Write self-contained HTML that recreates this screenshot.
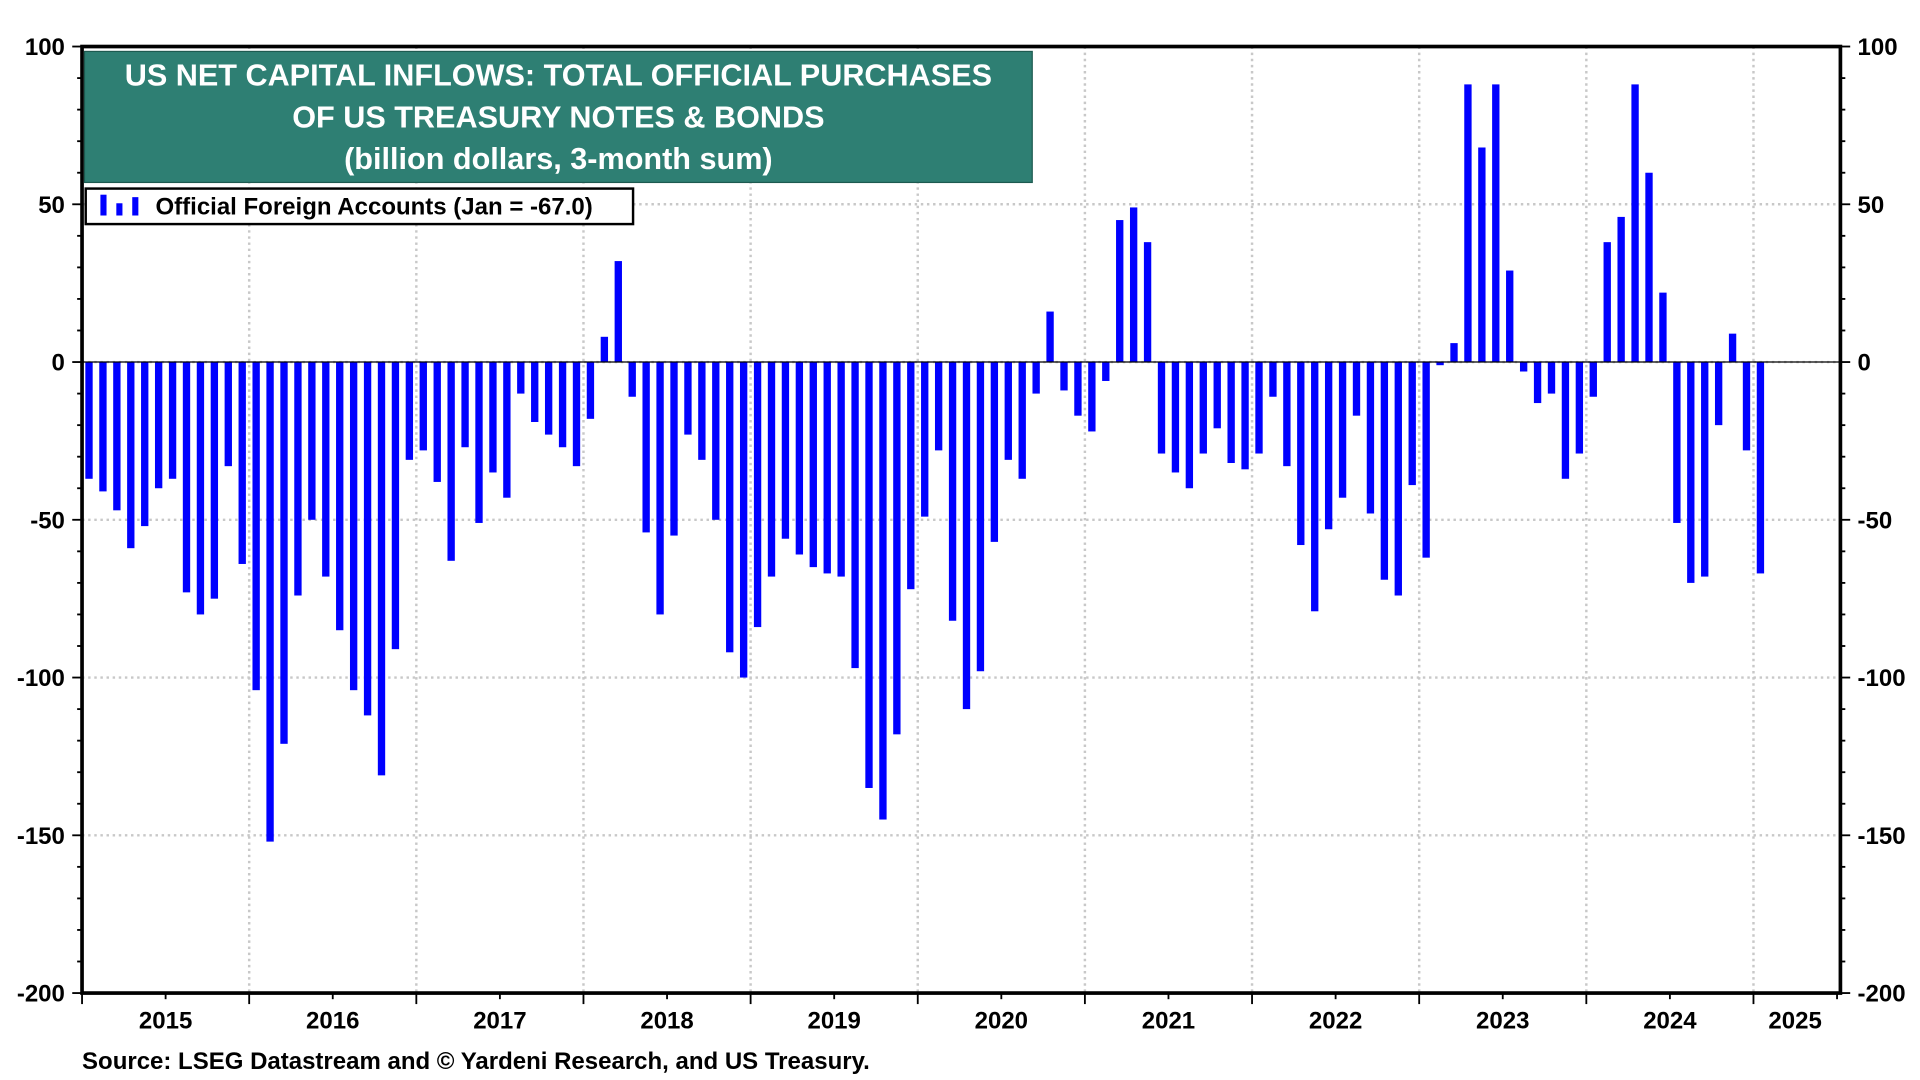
<!DOCTYPE html>
<html><head><meta charset="utf-8"><style>
html,body{margin:0;padding:0;background:#fff;}
svg{display:block;font-family:"Liberation Sans",Arial,sans-serif;}
</style></head><body>
<svg id="chart" width="1920" height="1080" viewBox="0 0 1568 882" preserveAspectRatio="none" xmlns="http://www.w3.org/2000/svg">
<g id="grid"></g>
<g id="bars"></g>
<g id="axes"></g>
<g>
<rect x="69" y="42" width="774" height="107" fill="#2e7f73" stroke="#1d5a50" stroke-width="1"/>
<text x="456" y="70" text-anchor="middle" font-size="25" font-weight="bold" fill="#fff">US NET CAPITAL INFLOWS: TOTAL OFFICIAL PURCHASES</text>
<text x="456" y="104" text-anchor="middle" font-size="25" font-weight="bold" fill="#fff">OF US TREASURY NOTES &amp; BONDS</text>
<text x="456" y="138" text-anchor="middle" font-size="25" font-weight="bold" fill="#fff">(billion dollars, 3-month sum)</text>
</g>
<g>
<rect x="70" y="154" width="447" height="29" fill="#fff" stroke="#000" stroke-width="2"/>
<rect x="82" y="159" width="5" height="17" fill="#0000ff"/>
<rect x="95" y="166" width="5" height="10" fill="#0000ff"/>
<rect x="108" y="161" width="5" height="15" fill="#0000ff"/>
<text x="127" y="175" font-size="19.6" font-weight="bold" fill="#000">Official Foreign Accounts (Jan = -67.0)</text>
</g>
<text x="67" y="873" font-size="19.6" font-weight="bold" fill="#000">Source: LSEG Datastream and © Yardeni Research, and US Treasury.</text>
</svg>
<script>
const startYear = 2015;
const values = [
-37,-41,-47,-59,-52,-40,-37,-73,-80,-75,-33,-64,
-104,-152,-121,-74,-50,-68,-85,-104,-112,-131,-91,-31,
-28,-38,-63,-27,-51,-35,-43,-10,-19,-23,-27,-33,
-18,8,32,-11,-54,-80,-55,-23,-31,-50,-92,-100,
-84,-68,-56,-61,-65,-67,-68,-97,-135,-145,-118,-72,
-49,-28,-82,-110,-98,-57,-31,-37,-10,16,-9,-17,
-22,-6,45,49,38,-29,-35,-40,-29,-21,-32,-34,
-29,-11,-33,-58,-79,-53,-43,-17,-48,-69,-74,-39,
-62,-1,6,88,68,88,29,-3,-13,-10,-37,-29,
-11,38,46,88,60,22,-51,-70,-68,-20,9,-28,
-67];
const yearLabels = ["2015","2016","2017","2018","2019","2020","2021","2022","2023","2024","2025"];
const yTicks = [100,50,0,-50,-100,-150,-200];

const NS="http://www.w3.org/2000/svg";
const L=67,R=1503,T=38,B=811,yMax=100,yMin=-200;
const monthW=11.375;
function y(v){return T+(yMax-v)/(yMax-yMin)*(B-T);}
function xm(i){return L+(i+0.5)*monthW;}
function xs(i){return L+i*monthW;}
function mk(tag,attrs,parent){const e=document.createElementNS(NS,tag);for(const k in attrs)e.setAttribute(k,attrs[k]);parent.appendChild(e);return e;}
const grid=document.getElementById('grid'),bars=document.getElementById('bars'),axes=document.getElementById('axes');
yTicks.forEach(v=>{
  if(v<yMax&&v>yMin){const g=mk('line',{x1:L,x2:R,y1:y(v),y2:y(v),stroke:'#c8c8c8','stroke-width':2,'stroke-dasharray':'2,3'},grid);
  
  }
  const tl=mk('text',{x:L-14,y:y(v)+7,'text-anchor':'end','font-size':19.6,'font-weight':'bold'},axes);tl.textContent=v;
  
  
  const tr=mk('text',{x:R+14,y:y(v)+7,'text-anchor':'start','font-size':19.6,'font-weight':'bold'},axes);tr.textContent=v;
  
  
});
for(let v=yMin;v<=yMax;v+=10){const big=v%50===0;
  mk('line',{x1:L-(big?8:4),x2:L,y1:y(v),y2:y(v),stroke:'#000','stroke-width':1.5},axes);
  mk('line',{x1:R,x2:R+(big?8:4),y1:y(v),y2:y(v),stroke:'#000','stroke-width':1.5},axes);}
yearLabels.forEach((lab,k)=>{
  const xs0=xs(k*12);
  if(k>0&&xs0<R){const g=mk('line',{x1:xs0,x2:xs0,y1:T,y2:B,stroke:'#c8c8c8','stroke-width':2,'stroke-dasharray':'2,3'},grid);
  
  }
  mk('line',{x1:xs0,x2:xs0,y1:B,y2:B+9,stroke:'#000','stroke-width':1.5},axes);
  mk('line',{x1:xs0+6*monthW,x2:xs0+6*monthW,y1:B,y2:B+5,stroke:'#000','stroke-width':1.5},axes);
  const cx=Math.min(xs0+6*monthW,1466);
  const t=mk('text',{x:cx,y:B+29,'text-anchor':'middle','font-size':19.6,'font-weight':'bold'},axes);t.textContent=lab;
  
  
});
values.forEach((v,i)=>{
  const y0=y(0),yv=y(v);
  const r=mk('rect',{x:xm(i)-3,y:Math.min(y0,yv),width:6,height:Math.max(1,Math.abs(yv-y0)),fill:'#0000ff'},bars);
  
  
});
mk('line',{x1:L,x2:R,y1:y(0),y2:y(0),stroke:'#000','stroke-width':1},bars);
mk('rect',{x:L,y:T,width:R-L,height:B-T,fill:'none',stroke:'#000','stroke-width':3},axes);
</script>
</body></html>
